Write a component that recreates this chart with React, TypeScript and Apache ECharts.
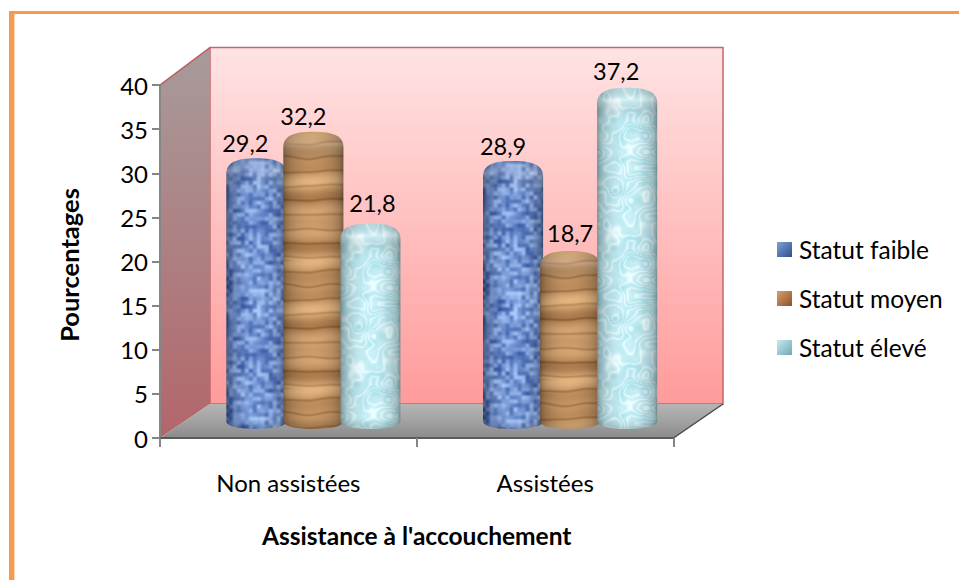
import React, { useEffect, useRef } from "react";
import * as echarts from "echarts";

const categories = ["Non assistées", "Assistées"];
const seriesNames = ["Statut faible", "Statut moyen", "Statut élevé"];
const faible = [29.2, 28.9];
const moyen = [32.2, 18.7];
const eleve = [21.8, 37.2];
const seriesValues = [faible, moyen, eleve];
// manual placement of the data labels relative to each column's top centre [dx, dy]
const labelNudges = [
  [[-11, -15], [-10, -15]],
  [[-10, -16], [0, -18]],
  [[2, -21], [-11, -17]],
];

const FONT = "Lato, Carlito, 'Open Sans', sans-serif";
const DEPTH_X = 25;
const DEPTH_Y = -17;

function lerp(a: number[], b: number[], t: number) {
  return a.map((v, i) => v + (b[i] - v) * Math.max(0, Math.min(1, t)));
}

// deterministic hash-based value noise, periodic in y so the tile repeats cleanly
function hash(x: number, y: number) {
  const s = Math.sin(x * 127.1 + y * 311.7) * 43758.5453;
  return s - Math.floor(s);
}
function noise(x: number, y: number, cell: number, rows: number) {
  const gx = x / cell;
  const gy = y / cell;
  const x0 = Math.floor(gx);
  const y0 = Math.floor(gy);
  const fx = gx - x0;
  const fy = gy - y0;
  const ux = fx * fx * (3 - 2 * fx);
  const uy = fy * fy * (3 - 2 * fy);
  const y1 = (y0 + 1) % rows;
  const a = hash(x0, y0 % rows);
  const b = hash(x0 + 1, y0 % rows);
  const c = hash(x0, y1);
  const d = hash(x0 + 1, y1);
  return a + (b - a) * ux + (c - a) * uy + (a - b - c + d) * ux * uy;
}

function makeTexture(kind: number) {
  const w = 60;
  const h = 128;
  const c = document.createElement("canvas");
  c.width = w;
  c.height = h;
  const ctx = c.getContext("2d")!;
  const img = ctx.createImageData(w, h);
  for (let y = 0; y < h; y++) {
    for (let x = 0; x < w; x++) {
      const p = (x + 0.5) / w;
      const profile = Math.pow(Math.sin(Math.PI * p), 0.38);
      let col: number[];
      if (kind === 0) {
        const knit = noise(x, y, 4, 32);
        const blotch = noise(x, y, 16, 8);
        const t = 0.12 + 0.75 * knit + 0.35 * (blotch - 0.5);
        col = lerp([50, 82, 158], [175, 205, 250], t);
      } else if (kind === 1) {
        const a = (2 * Math.PI * y) / h;
        const wob = 2.4 * noise(x, y, 24, 16);
        const yy = a + wob * 0.1;
        const t =
          0.68 +
          0.14 * Math.sin(yy * 3 + 0.6) +
          0.12 * Math.sin(yy * 5 + 1) -
          0.26 * Math.pow(Math.max(0, Math.sin(yy * 9 + 2)), 6);
        col = lerp([120, 72, 34], [226, 182, 130], t);
      } else {
        const n1 = noise(x, y, 8, 16);
        const n2 = noise(x + 30, y, 16, 8);
        const vein = Math.abs(Math.sin((n2 * 6 + n1 * 1.5) * Math.PI));
        const t = 0.42 + 0.55 * (1 - vein) * (1 - vein) + 0.4 * (n1 - 0.5);
        col = lerp([146, 208, 220], [232, 250, 252], t);
      }
      const k = 0.5 + 0.54 * profile;
      const i = (y * w + x) * 4;
      img.data[i] = Math.min(255, col[0] * k);
      img.data[i + 1] = Math.min(255, col[1] * k);
      img.data[i + 2] = Math.min(255, col[2] * k);
      img.data[i + 3] = 255;
    }
  }
  ctx.putImageData(img, 0, 0);
  return c;
}

const legendColors = [
  ["#2f4f8f", "#7f9fd8"],
  ["#8a5228", "#d8a070"],
  ["#6fa8b5", "#c8eaf0"],
];

function gradient(x2: number, y2: number, stops: [number, string][]) {
  return {
    type: "linear",
    x: 0,
    y: 0,
    x2,
    y2,
    colorStops: stops.map(([offset, color]) => ({ offset, color })),
  };
}

function cylinderPath(ctx: any, w: number, h: number) {
  ctx.moveTo(0, 16);
  ctx.bezierCurveTo(0, 4, 10, 0, w / 2, 0);
  ctx.bezierCurveTo(w - 10, 0, w, 4, w, 16);
  ctx.lineTo(w, h - 8);
  ctx.bezierCurveTo(w, h - 2, w * 0.75, h, w / 2, h);
  ctx.bezierCurveTo(w * 0.25, h, 0, h - 2, 0, h - 8);
  ctx.closePath();
}

echarts.graphic.registerShape(
  "cylinder",
  (echarts.graphic as any).extendShape({
    shape: { w: 0, h: 0 },
    buildPath(ctx: any, s: any) {
      cylinderPath(ctx, s.w, s.h);
    },
  })
);

export default function App() {
  const ref = useRef<HTMLDivElement>(null);
  useEffect(() => {
    const chart = echarts.init(ref.current!, null, { renderer: "svg" });
    const textures = [0, 1, 2].map(makeTexture);
    const axisGray = "#868686";

    const makeSeries = (si: number) => ({
      type: "custom",
      name: seriesNames[si],
      coordinateSystem: "cartesian2d",
      z: 3 + si,
      clip: false,
      encode: { x: 0, y: 1 },
      itemStyle: { color: gradient(1, 1, [[0, legendColors[si][1]], [1, legendColors[si][0]]]) },
      data: seriesValues[si].map((v, i) => [i, v]),
      renderItem: (params: any, api: any) => {
        const ci = api.value(0);
        const val = api.value(1);
        const top = api.coord([ci, val]);
        const base = api.coord([ci, 0]);
        const band = api.size([1, 0])[0];
        const spacing = band * 0.2222;
        const w = band * 0.234;
        const cx = top[0] + DEPTH_X + (si - 1) * spacing;
        const yTop = top[1] + DEPTH_Y - 5;
        const yBottom = base[1] + DEPTH_Y + 8;
        const h = yBottom - yTop;
        const nudge = labelNudges[si][ci];
        return {
          type: "group",
          x: cx - w / 2,
          y: yTop,
          children: [
            {
              type: "cylinder",
              shape: { w, h },
              style: { fill: { image: textures[si], repeat: "repeat" } },
            },
            {
              type: "cylinder",
              shape: { w, h },
              style: {
                fill: gradient(0, 1, [
                  [0, "rgba(0,0,0,0.10)"],
                  [12 / h, "rgba(255,255,255,0.22)"],
                  [26 / h, "rgba(0,0,0,0.05)"],
                  [34 / h, "rgba(0,0,0,0)"],
                  [Math.max(0.5, 1 - 10 / h), "rgba(0,0,0,0)"],
                  [1, "rgba(0,0,0,0.18)"],
                ]),
              },
            },
            {
              type: "text",
              x: w / 2 + nudge[0],
              y: nudge[1],
              style: {
                text: String(val).replace(".", ","),
                fontFamily: FONT,
                fontSize: 23.5,
                fill: "#000",
                align: "center",
                verticalAlign: "middle",
              },
            },
          ],
        };
      },
    });

    chart.setOption({
      animation: false,
      backgroundColor: "#ffffff",
      textStyle: { fontFamily: FONT },
      grid: { left: 160, top: 85, width: 513.5, height: 353, containLabel: false },
      xAxis: {
        type: "category",
        data: categories,
        z: 2,
        axisLine: { lineStyle: { color: "#5a5a5a", width: 2 } },
        axisTick: { show: true, length: 9, lineStyle: { color: axisGray, width: 2 } },
        axisLabel: { color: "#000", fontSize: 24, margin: 32, fontFamily: FONT },
        name: "Assistance à l'accouchement",
        nameLocation: "middle",
        nameGap: 85,
        nameTextStyle: { color: "#000", fontSize: 24.5, fontWeight: "bold", fontFamily: FONT },
      },
      yAxis: {
        type: "value",
        min: 0,
        max: 40,
        interval: 5,
        z: 2,
        splitLine: { show: false },
        axisLine: { show: true, lineStyle: { color: axisGray, width: 2 } },
        axisTick: { show: true, length: 8, lineStyle: { color: axisGray, width: 2 } },
        axisLabel: { color: "#000", fontSize: 24, margin: 12, fontFamily: FONT },
        name: "Pourcentages",
        nameLocation: "middle",
        nameGap: 78,
        nameTextStyle: { color: "#000", fontSize: 25.5, fontWeight: "bold", fontFamily: FONT, padding: [0, 7, 0, 0] },
      },
      legend: {
        orient: "vertical",
        left: 772,
        top: 232,
        itemWidth: 15,
        itemHeight: 15,
        itemGap: 24,
        icon: "rect",
        data: seriesNames,
        textStyle: { color: "#000", fontSize: 24.5, fontFamily: FONT, padding: [0, 0, 0, 2] },
      },
      graphic: {
        elements: [
          { type: "rect", z: 0, shape: { x: 9, y: 11, width: 950, height: 3 }, style: { fill: "#f79a4b" } },
          { type: "rect", z: 0, shape: { x: 9, y: 11, width: 5, height: 569 }, style: { fill: "#f79a4b" } },
          { type: "rect", z: 0, shape: { x: 14, y: 14, width: 1, height: 566 }, style: { fill: "#fcd9ba" } },
          {
            type: "rect",
            z: 0,
            shape: { x: 210, y: 47.5, width: 513, height: 356.5 },
            style: {
              fill: gradient(0, 1, [[0, "#ffe3e3"], [1, "#ff9b9b"]]),
              stroke: "#c0686b",
              lineWidth: 1.5,
            },
          },
          {
            type: "polygon",
            z: 0,
            shape: { points: [[160, 85], [210, 47.5], [210, 404], [160, 438]] },
            style: {
              fill: gradient(0, 1, [[0, "#a79b9b"], [1, "#b3666b"]]),
            },
          },
          {
            type: "polyline",
            z: 1,
            shape: { points: [[160, 85], [210, 47.5]] },
            style: { stroke: "#c0565b", lineWidth: 1.5, fill: "none" },
          },
          {
            type: "polygon",
            z: 1,
            shape: { points: [[160, 438], [210, 404], [723, 404], [673.5, 438]] },
            style: {
              fill: gradient(0, 1, [[0, "#b5b5b5"], [0.5, "#a2a2a2"], [1, "#8a8a8a"]]),
            },
          },
          {
            type: "polyline",
            z: 1,
            shape: { points: [[673.5, 438], [723, 404]] },
            style: { stroke: "#4a4a4a", lineWidth: 1.5, fill: "none" },
          },
        ],
      },
      series: [0, 1, 2].map(makeSeries),
    } as any);
    return () => chart.dispose();
  }, []);
  return (
    <div
      ref={ref}
      style={{ position: "fixed", left: 0, top: 0, width: 959, height: 580 }}
    />
  );
}
